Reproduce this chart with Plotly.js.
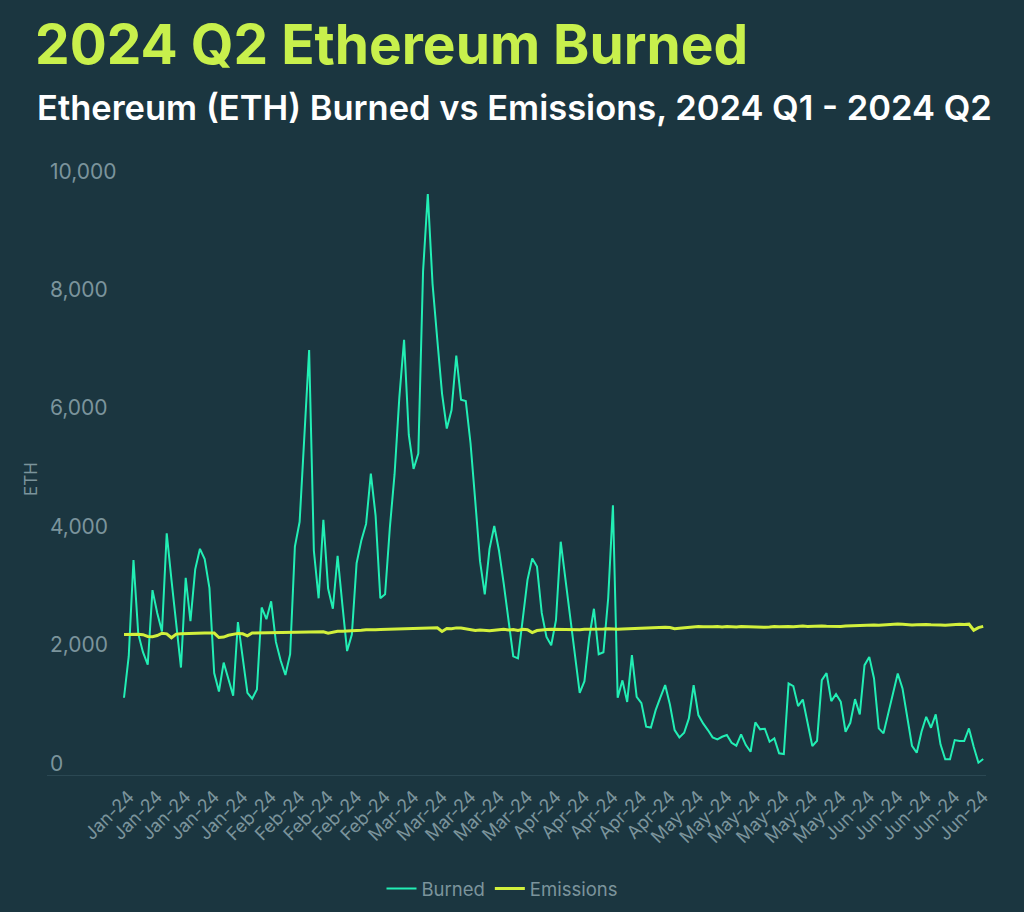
<!DOCTYPE html>
<html>
<head>
<meta charset="utf-8">
<script src="https://cdn.plot.ly/plotly-3.0.1.min.js"></script>
<style>
  html, body { margin: 0; padding: 0; background: #1b3640; }
  #chart { width: 1024px; height: 912px; }
</style>
</head>
<body>
<div id="chart"></div>
<script>
// Daily data, 2024-01-01 .. 2024-06-30
const startDate = '2024-01-01';
const burned = [
  1305, 2007, 3632, 2388, 2074, 1863, 3123, 2738, 2423, 4081,
  3297, 2597, 1815, 3332, 2597, 3474, 3821, 3647, 3157, 1723,
  1410, 1899, 1619, 1339, 2584, 1970, 1388, 1290, 1445, 2830,
  2631, 2934, 2248, 1934, 1690, 2040, 3857, 4277, 5800, 7180,
  3788, 2985, 4310, 3150, 2808, 3703, 2879, 2094, 2374, 3577,
  3963, 4241, 5093, 4381, 2985, 3052, 4172, 5081, 6374, 7352,
  5744, 5170, 5430, 8506, 9814, 8297, 7352, 6443, 5852, 6164,
  7086, 6341, 6317, 5604, 4626, 3612, 3052, 3821, 4206, 3788,
  3230, 2620, 2005, 1970, 2668, 3297, 3659, 3521, 2738, 2332,
  2192, 2614, 3941, 3297, 2703, 2040, 1388, 1585, 2319, 2808,
  2040, 2074, 2985, 4556, 1305, 1599, 1234, 2024, 1319, 1214,
  815, 801, 1096, 1310, 1520, 1190, 759, 636, 714, 956,
  1518, 1012, 872, 759, 636, 602, 646, 675, 545, 495,
  686, 506, 393, 889, 771, 781, 562, 619, 366, 354,
  1546, 1501, 1164, 1276, 872, 489, 579, 1602, 1720, 1248,
  1366, 1236, 730, 882, 1282, 1023, 1855, 1995, 1630, 787,
  703, 1040, 1377, 1715, 1462, 983, 494, 376, 730, 983,
  798, 1023, 517, 264, 264, 590, 573, 573, 787, 478,
  208, 270
];
const emissions = [
  2373, 2378, 2380, 2376, 2370, 2340, 2335, 2355, 2395, 2385,
  2318, 2380, 2385, 2390, 2392, 2388, 2395, 2398, 2400, 2398,
  2322, 2330, 2360, 2380, 2392, 2385, 2350, 2398, 2400, 2402,
  2400, 2403, 2401, 2405, 2404, 2402, 2410, 2412, 2414, 2416,
  2420, 2423, 2420, 2395, 2410, 2428, 2430, 2432, 2430, 2440,
  2445, 2455, 2450, 2452, 2458, 2460, 2462, 2466, 2462, 2465,
  2468, 2470, 2472, 2479, 2482, 2486, 2488, 2425, 2475, 2470,
  2485, 2483, 2470, 2445, 2440, 2448, 2440, 2435, 2445, 2455,
  2460, 2450, 2458, 2440, 2460, 2455, 2405, 2440, 2455, 2458,
  2460, 2458, 2462, 2465, 2462, 2460, 2455, 2462, 2460, 2465,
  2468, 2466, 2470, 2465, 2462, 2468, 2472, 2474, 2478, 2475,
  2480, 2490, 2488, 2492, 2495, 2490, 2472, 2478, 2485, 2500,
  2505, 2508, 2503, 2510, 2505, 2508, 2502, 2510, 2505, 2500,
  2508, 2504, 2510, 2505, 2498, 2495, 2500, 2510, 2505, 2512,
  2508, 2505, 2512, 2515, 2510, 2515, 2518, 2515, 2512, 2510,
  2505, 2510, 2515, 2518, 2520, 2525, 2530, 2535, 2532, 2528,
  2535, 2538, 2540, 2550, 2545, 2538, 2535, 2540, 2535, 2542,
  2538, 2540, 2535, 2530, 2538, 2542, 2545, 2543, 2548, 2445,
  2490, 2510
];
const yTicks = [0, 2000, 4000, 6000, 8000, 10000];
const yTickText = ['0', '2,000', '4,000', '6,000', '8,000', '10,000'];

// dates built from the start date (one per data value)
const dates = burned.map((_, i) => {
  const d = new Date(startDate + 'T00:00:00Z');
  d.setUTCDate(d.getUTCDate() + i);
  return d.toISOString().slice(0, 10);
});
// a label every 6th day, starting on the 2nd day
const xTicks = dates.filter((_, i) => i % 6 === 1);

const gray = '#7b949c';
const traces = [
  { x: dates, y: burned, name: 'Burned', type: 'scatter', mode: 'lines',
    line: { color: '#22eeb4', width: 2 } },
  { x: dates, y: emissions, name: 'Emissions', type: 'scatter', mode: 'lines',
    line: { color: '#d2f03c', width: 3 } }
];

const layout = {
  width: 1024, height: 912,
  paper_bgcolor: '#1b3640', plot_bgcolor: '#1b3640',
  font: { family: 'Inter, sans-serif', color: gray },
  margin: { l: 47, r: 38, t: 183, b: 137, autoexpand: false },
  title: {
    text: '<b>2024 Q2 Ethereum Burned</b>',
    font: { family: 'Inter, sans-serif', size: 55, color: '#c8f04c' },
    xref: 'container', x: 35 / 1024, xanchor: 'left',
    yref: 'container', y: 1 - 45 / 912, yanchor: 'middle'
  },
  annotations: [{
    text: 'Ethereum (ETH) Burned vs Emissions, 2024 Q1 - 2024 Q2',
    xref: 'paper', yref: 'paper',
    x: (35 - 47) / 939, y: (775 - 107) / 592,
    xanchor: 'left', yanchor: 'middle', showarrow: false,
    font: { family: 'Inter, sans-serif', size: 34.5, color: '#ffffff', weight: 600 }
  }],
  xaxis: {
    type: 'date',
    range: ['2023-12-15 18:43', '2024-06-30 14:10'],
    tickvals: xTicks,
    tickformat: '%b-%y', tickangle: -45,
    tickfont: { size: 18, color: gray },
    ticklabelstandoff: 3,
    showgrid: false, zeroline: false,
    showline: true, linecolor: '#2b4853', linewidth: 1,
    ticks: '', fixedrange: true
  },
  yaxis: {
    range: [0, 10000],
    tickvals: yTicks, ticktext: yTickText,
    ticklabelposition: 'inside top', ticklabeloverflow: 'allow',
    ticklabelshift: 3,
    tickfont: { size: 21, color: gray },
    showgrid: false, zeroline: false, showline: false, ticks: '',
    title: { text: 'ETH', font: { size: 17, color: gray }, standoff: 8 },
    fixedrange: true
  },
  showlegend: true,
  legend: {
    orientation: 'h', x: (502 - 47) / 939, xanchor: 'center',
    y: (775 - 889) / 592, yanchor: 'middle',
    font: { size: 18.5, color: gray }, bgcolor: 'rgba(0,0,0,0)'
  }
};

Plotly.newPlot('chart', traces, layout, { displayModeBar: false, staticPlot: true });
</script>
</body>
</html>
